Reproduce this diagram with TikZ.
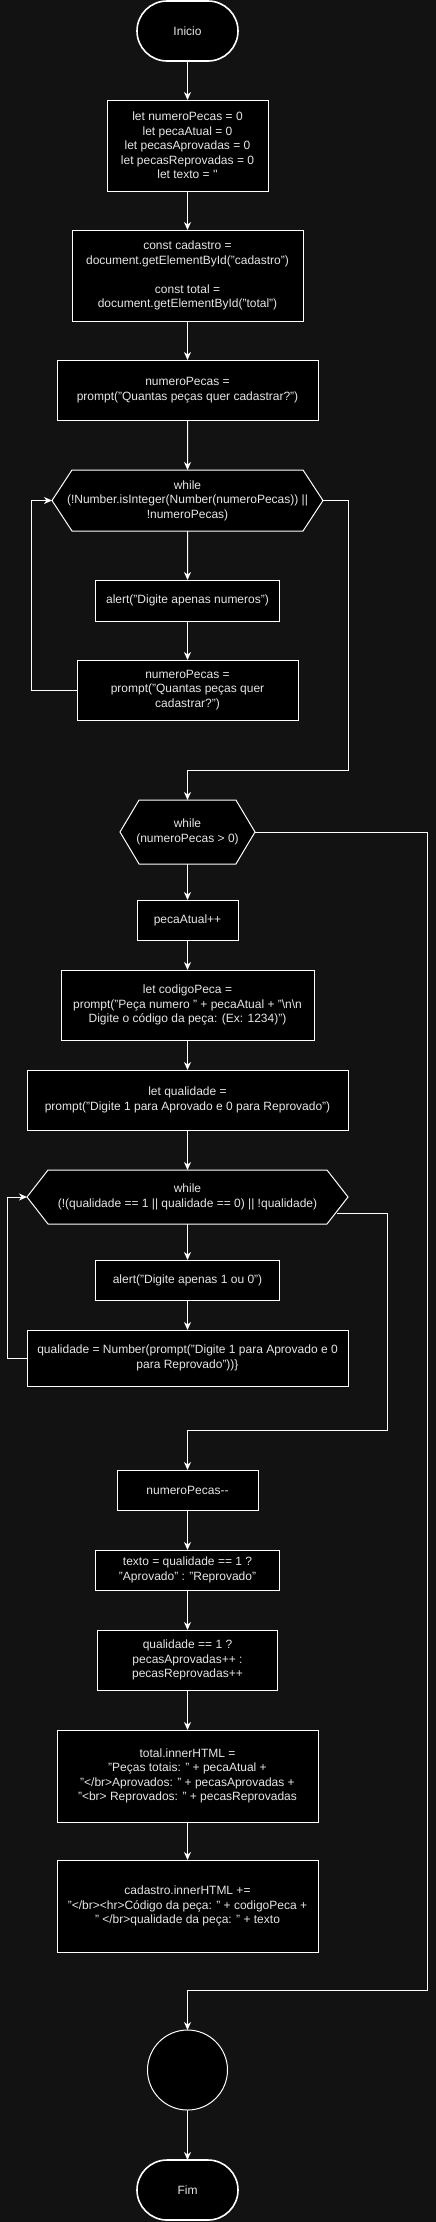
\documentclass[tikz,border=0pt]{standalone}
\usepackage{fontspec}
\setmainfont{Liberation Sans}
\usetikzlibrary{arrows.meta, positioning, shapes.symbols}

\definecolor{bgdark}{HTML}{121212}
\definecolor{labelgray}{HTML}{E6E6E6}

\begin{document}
\begin{tikzpicture}[
		x=1pt, y=-1pt,
		base/.style= {
				font=\fontsize{12pt}{14.4pt}\selectfont,
				text=labelgray,
				align=center,
				inner sep=2pt,
				outer sep=0pt,
				draw=white,
				fill=black,
				line width=1pt
			},
		process/.style= {
				base,
				rectangle
			},
		terminal/.style= {
				base,
				rectangle,
				rounded corners=30pt,
				line width=1.6pt,
				minimum width=101pt,
				minimum height=60pt
			},
		decision/.style= {
				base,
				signal,
				signal to=west and east,
				inner xsep=-8pt
			},
		joint/.style= {
				base,
				circle,
				minimum size=80pt
			},
		myarrow/.style= {
				draw=white,
				line width=1pt,
				-{Stealth[length=8pt, width=7pt, inset=2.5pt]}
			}
	]

	\fill[bgdark] (0,0) rectangle (436,2222);

	\node[terminal] (start) at (187.5,31) {Inicio};
	\node[process, minimum width=161pt, minimum height=91pt] (init) [below=39pt of start] {let numeroPecas = 0\\let pecaAtual = 0\\let pecasAprovadas = 0\\let pecasReprovadas = 0\\let texto = \textquotesingle\textquotesingle};
	\node[process, minimum width=231pt, minimum height=91pt] (consts) [below=39pt of init] {const cadastro =\\document.getElementById("cadastro")\\[14.4pt]const total =\\document.getElementById("total")};
	\node[process, minimum width=261pt, minimum height=60pt] (askn) [below=39pt of consts] {numeroPecas =\\prompt("Quantas peças quer cadastrar?")};
	\node[decision, minimum width=271pt, minimum height=61pt, signal pointer angle=113.5] (w1) [below=50pt of askn] {while\\(!Number.isInteger(Number(numeroPecas)) ||\\!numeroPecas)};
	\node[process, minimum width=184pt, minimum height=41pt] (alert1) [below=49pt of w1] {alert("Digite apenas numeros")};
	\node[process, minimum width=221pt, minimum height=60pt] (askn2) [below=39pt of alert1] {numeroPecas =\\prompt("Quantas peças quer\\cadastrar?")};
	\node[decision, minimum width=135pt, minimum height=64pt, signal pointer angle=118.4] (w2) [below=80pt of askn2] {while\\(numeroPecas > 0)};
	\node[process, minimum width=101pt, minimum height=40pt] (inc) [below=36pt of w2] {pecaAtual++};
	\node[process, minimum width=253pt, minimum height=70pt] (codigo) [below=30pt of inc] {let codigoPeca =\\prompt("Peça numero " + pecaAtual + "\textbackslash n\textbackslash n\\Digite o código da peça: (Ex: 1234)")};
	\node[process, minimum width=321pt, minimum height=60pt] (qual) [below=30pt of codigo] {let qualidade =\\prompt("Digite 1 para Aprovado e 0 para Reprovado")};
	\node[decision, minimum width=321pt, minimum height=54pt, signal pointer angle=104.2] (w3) [below=40pt of qual] {while\\(!(qualidade == 1 || qualidade == 0) || !qualidade)};
	\node[process, minimum width=184pt, minimum height=40pt] (alert2) [below=36pt of w3] {alert("Digite apenas 1 ou 0")};
	\node[process, minimum width=321pt, minimum height=56pt] (qual2) [below=30pt of alert2] {qualidade = Number(prompt("Digite 1 para Aprovado e 0\\para Reprovado"))\}};
	\node[process, minimum width=141pt, minimum height=40pt] (dec) [below=84pt of qual2] {numeroPecas-{}-};
	\node[process, minimum width=184pt, minimum height=40pt] (texto) [below=40pt of dec] {texto = qualidade == 1 ?\\"Aprovado" : "Reprovado"};
	\node[process, minimum width=180pt, minimum height=60pt] (cont) [below=40pt of texto] {qualidade == 1 ?\\pecasAprovadas++ :\\pecasReprovadas++};
	\node[process, minimum width=261pt, minimum height=92pt] (total) [below=40pt of cont] {total.innerHTML =\\"Peças totais: " + pecaAtual +\\"</br>Aprovados: " + pecasAprovadas +\\"<br> Reprovados: " + pecasReprovadas};
	\node[process, minimum width=261pt, minimum height=92pt] (cad) [below=38pt of total] {cadastro.innerHTML +=\\"</br><hr>Código da peça: " + codigoPeca +\\" </br>qualidade da peça: " + texto};
	\node[joint] (join) [below=78pt of cad] {};
	\node[terminal] (fim) [below=50pt of join] {Fim};

	\draw[myarrow] (start) -- (init);
	\draw[myarrow] (init) -- (consts);
	\draw[myarrow] (consts) -- (askn);
	\draw[myarrow] (askn) -- (w1);
	\draw[myarrow] (w1) -- (alert1);
	\draw[myarrow] (alert1) -- (askn2);
	\draw[myarrow] (askn2.west) -| ([xshift=-21pt]w1.west) -- (w1.west);
	\draw[myarrow] (w1.east) -- ++(25,0) |- ([yshift=30pt]w2.north) -- (w2.north);
	\draw[myarrow] (w2) -- (inc);
	\draw[myarrow] (inc) -- (codigo);
	\draw[myarrow] (codigo) -- (qual);
	\draw[myarrow] (qual) -- (w3);
	\draw[myarrow] (w3) -- (alert2);
	\draw[myarrow] (alert2) -- (qual2);
	\draw[myarrow] (qual2.west) -| ([xshift=-20pt]w3.west) -- (w3.west);
	\draw[myarrow] ([xshift=-11pt, yshift=-16pt]w3.east) -- ++(50,0) |- ([yshift=40pt]dec.north) -- (dec.north);
	\draw[myarrow] (dec) -- (texto);
	\draw[myarrow] (texto) -- (cont);
	\draw[myarrow] (cont) -- (total);
	\draw[myarrow] (total) -- (cad);
	\draw[myarrow] (w2.east) -- ++(172,0) |- ([yshift=40pt]join.north) -- (join.north);
	\draw[myarrow] (join) -- (fim);
\end{tikzpicture}
\end{document}
